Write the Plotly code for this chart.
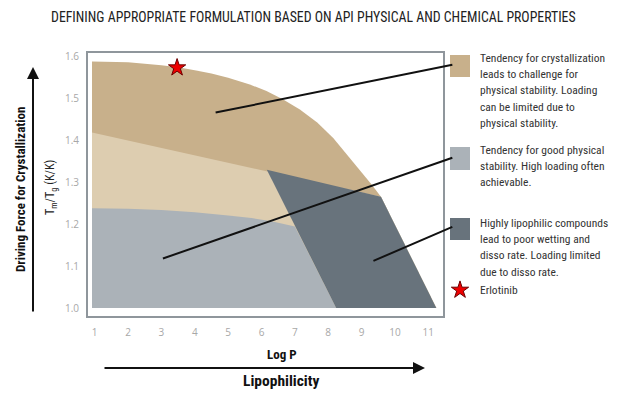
import plotly.graph_objects as go

# ---- data ----
x_ticks = [1, 2, 3, 4, 5, 6, 7, 8, 9, 10, 11]
y_ticks = [1.0, 1.1, 1.2, 1.3, 1.4, 1.5, 1.6]

# outer boundary of crystallization (tan) region
top_curve_x = [0.92, 2.0, 3.0, 3.5, 4.0, 4.5, 5.0, 5.65, 6.15, 6.65, 7.15, 7.67, 8.15, 8.66,
               9.0, 9.3, 9.58]
top_curve_y = [1.589, 1.587, 1.580, 1.575, 1.568, 1.560, 1.550, 1.534, 1.518, 1.498, 1.474,
               1.443, 1.406, 1.358, 1.325, 1.295, 1.266]

# boundary between tan and light tan
mid_line_x = [0.92, 9.58]
mid_line_y = [1.419, 1.266]

# top of the light gray region
gray_top_x = [0.92, 2.0, 3.0, 4.0, 5.0, 5.7, 6.3, 6.7, 7.0]
gray_top_y = [1.238, 1.237, 1.234, 1.229, 1.221, 1.215, 1.207, 1.200, 1.195]

# dark (highly lipophilic) region corners
dark_x = [6.16, 9.58, 11.24, 8.24]
dark_y = [1.330, 1.266, 1.0, 1.0]

base_y = 1.0
left_x = 0.92

star_x, star_y = 3.47, 1.574

# leader lines: (start in region) -> (legend swatch)
leader_start_x = [4.58, 3.0, 9.31]
leader_start_y = [1.466, 1.117, 1.111]
leader_end_x = [11.72, 11.72, 11.72]
leader_end_y = [1.581, 1.359, 1.194]

legend_texts = [
    ["Tendency for crystallization", "leads to challenge for", "physical stability. Loading",
     "can be limited due to", "physical stability."],
    ["Tendency for good physical", "stability. High loading often", "achievable."],
    ["Highly lipophilic compounds", "lead to poor wetting and", "disso rate. Loading limited",
     "due to disso rate."],
]

c_tan = "#C8B08B"
c_ltan = "#DDCDB0"
c_lgray = "#ABB2B8"
c_dark = "#68737C"

W, H = 619, 393
PL, PR, PT, PB = 88, 443, 53, 316   # plot frame in pixels

COND = "Roboto Condensed, Arial Narrow, sans-serif"


def pp(px, py):
    """pixel position -> paper fraction of the whole figure"""
    return px / W, 1 - py / H


fig = go.Figure()

# tan region (layered)
fig.add_trace(go.Scatter(
    x=top_curve_x + [dark_x[2], left_x],
    y=top_curve_y + [base_y, base_y],
    fill="toself", fillcolor=c_tan, line=dict(width=0), mode="lines", hoverinfo="skip"))
# light tan
fig.add_trace(go.Scatter(
    x=mid_line_x + [dark_x[2], left_x],
    y=mid_line_y + [base_y, base_y],
    fill="toself", fillcolor=c_ltan, line=dict(width=0), mode="lines", hoverinfo="skip"))
# light gray
fig.add_trace(go.Scatter(
    x=gray_top_x + [dark_x[3], left_x],
    y=gray_top_y + [base_y, base_y],
    fill="toself", fillcolor=c_lgray, line=dict(width=0), mode="lines", hoverinfo="skip"))
# dark
fig.add_trace(go.Scatter(
    x=dark_x, y=dark_y,
    fill="toself", fillcolor=c_dark, line=dict(width=0), mode="lines", hoverinfo="skip"))

# leader lines
for sx, sy, ex, ey in zip(leader_start_x, leader_start_y, leader_end_x, leader_end_y):
    fig.add_annotation(x=ex, y=ey, ax=sx, ay=sy, xref="x", yref="y", axref="x", ayref="y",
                       text="", showarrow=True, arrowhead=0, arrowwidth=2, arrowcolor="#111111",
                       standoff=0, startstandoff=0)

star_marker = dict(symbol="star", size=13, color="#EE0000", line=dict(color="#6B0000", width=1))

# Erlotinib star on chart
fig.add_trace(go.Scatter(x=[star_x], y=[star_y], mode="markers", cliponaxis=False,
                         marker=star_marker, hoverinfo="skip"))
# legend star on a full-figure helper subplot (pixel coordinates)
fig.add_trace(go.Scatter(x=[460], y=[290], mode="markers", cliponaxis=False,
                         marker=star_marker, hoverinfo="skip", xaxis="x2", yaxis="y2"))

# legend swatches
swatches = [(c_tan, 55, 77), (c_lgray, 147, 170), (c_dark, 218, 240)]
for col, y0, y1 in swatches:
    x0p, y0p = pp(450, y1)
    x1p, y1p = pp(470, y0)
    fig.add_shape(type="rect", xref="paper", yref="paper", x0=x0p, x1=x1p, y0=y0p, y1=y1p,
                  fillcolor=col, line=dict(width=0), layer="above")

text_font = dict(family=COND, size=11.5, color="#333333")
line_starts = [58, 150, 223]
for lines, ys in zip(legend_texts, line_starts):
    for i, t in enumerate(lines):
        xp, yp = pp(478, ys + i * 16.2)
        fig.add_annotation(x=xp, y=yp, xref="paper", yref="paper", text=t, showarrow=False,
                           xanchor="left", yanchor="middle", font=text_font)
xp, yp = pp(478, 290)
fig.add_annotation(x=xp, y=yp, xref="paper", yref="paper", text="Erlotinib", showarrow=False,
                   xanchor="left", yanchor="middle", font=text_font)

# title
xp, yp = pp(313, 17)
fig.add_annotation(x=xp, y=yp, xref="paper", yref="paper",
                   text="DEFINING APPROPRIATE FORMULATION BASED ON API PHYSICAL AND CHEMICAL PROPERTIES",
                   showarrow=False, xanchor="center", yanchor="middle",
                   font=dict(family=COND, size=13.8, color="#222222"))

# y titles
xp, yp = pp(51, 188)
fig.add_annotation(x=xp, y=yp, xref="paper", yref="paper",
                   text="T<sub>m</sub>/T<sub>g</sub> (K/K)", textangle=-90, showarrow=False,
                   xanchor="center", yanchor="middle",
                   font=dict(family=COND, size=12, color="#222222"))
xp, yp = pp(20, 189)
fig.add_annotation(x=xp, y=yp, xref="paper", yref="paper",
                   text="<b>Driving Force for Crystallization</b>", textangle=-90, showarrow=False,
                   xanchor="center", yanchor="middle",
                   font=dict(family=COND, size=13, color="#111111"))
# vertical arrow
xp, yp = pp(33, 67)
fig.add_annotation(x=xp, y=yp, xref="paper", yref="paper", ax=0, ay=246, text="",
                   showarrow=True, arrowhead=2, arrowsize=1.2, arrowwidth=2, arrowcolor="#111111")

# x titles
xp, yp = pp(282, 354)
fig.add_annotation(x=xp, y=yp, xref="paper", yref="paper", text="<b>Log P</b>", showarrow=False,
                   xanchor="center", yanchor="middle",
                   font=dict(family=COND, size=13, color="#111111"))
xp, yp = pp(425, 368)
fig.add_annotation(x=xp, y=yp, xref="paper", yref="paper", ax=-322, ay=0, text="",
                   showarrow=True, arrowhead=2, arrowsize=1.2, arrowwidth=2, arrowcolor="#111111")
xp, yp = pp(281, 381)
fig.add_annotation(x=xp, y=yp, xref="paper", yref="paper", text="<b>Lipophilicity</b>",
                   showarrow=False, xanchor="center", yanchor="middle",
                   font=dict(family=COND, size=15.5, color="#111111"))

axis_common = dict(showgrid=False, zeroline=False, showline=True, mirror=True, automargin=False,
                   linecolor="#8F969C", linewidth=2, ticks="",
                   tickfont=dict(family="Open Sans, sans-serif", size=10, color="#A8A8A8"))

fig.update_layout(
    width=W, height=H, showlegend=False,
    margin=dict(l=0, r=0, t=0, b=0),
    plot_bgcolor="rgba(0,0,0,0)", paper_bgcolor="white",
    xaxis=dict(domain=[PL / W, PR / W], range=[0.80, 11.44], tickvals=x_ticks,
               ticklabelstandoff=6, anchor="y", **axis_common),
    yaxis=dict(domain=[1 - PB / H, 1 - PT / H], range=[0.981, 1.609], tickvals=y_ticks,
               tickformat=".1f", ticklabelstandoff=5, anchor="x", **axis_common),
    xaxis2=dict(domain=[0, 1], range=[0, W], visible=False, anchor="y2", automargin=False),
    yaxis2=dict(domain=[0, 1], range=[H, 0], visible=False, anchor="x2", automargin=False),
)

fig.write_html("out.html", config={"displayModeBar": False},
               post_script="document.body.style.margin='0';")
